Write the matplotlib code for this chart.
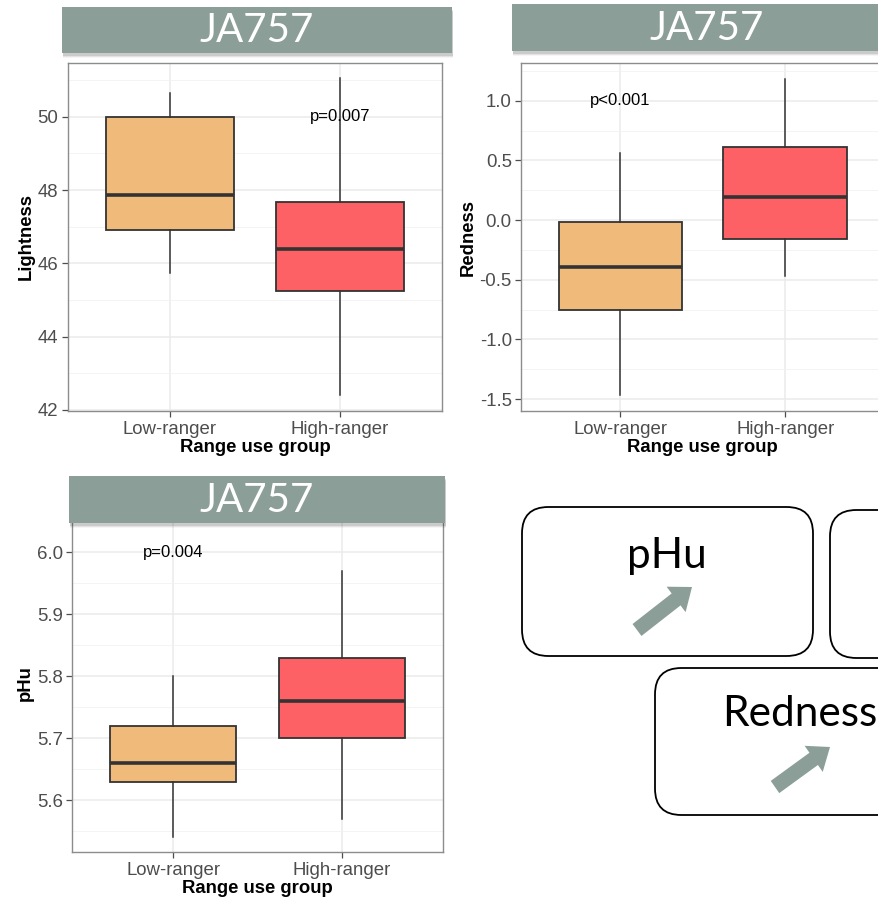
import matplotlib
matplotlib.use("Agg")
import matplotlib.pyplot as plt
from matplotlib.patches import Rectangle, FancyBboxPatch, FancyArrow
import numpy as np

plt.rcParams['font.family'] = ['Liberation Sans', 'DejaVu Sans']

# ---------------- data ----------------
groups = ["Low-ranger", "High-ranger"]
colors = ["#F0BA7A", "#FE6165"]

# box stats: [whisker_low, q1, median, q3, whisker_high]
lightness_low = [45.75, 46.9, 47.87, 50.0, 50.66]
lightness_high = [42.4, 45.25, 46.4, 47.67, 51.05]
redness_low = [-1.47, -0.75, -0.39, -0.02, 0.565]
redness_high = [-0.47, -0.16, 0.19, 0.61, 1.18]
phu_low = [5.54, 5.63, 5.66, 5.72, 5.80]
phu_high = [5.57, 5.70, 5.76, 5.83, 5.97]

p_labels = ["p=0.007", "p<0.001", "p=0.004"]
p_pos = [(2, 50.0), (1, 1.0), (1, 6.0)]
ylabels = ["Lightness", "Redness", "pHu"]
yticks_list = [[42, 44, 46, 48, 50], [-1.5, -1.0, -0.5, 0.0, 0.5, 1.0], [5.6, 5.7, 5.8, 5.9, 6.0]]
yticklabels_list = [["42", "44", "46", "48", "50"],
                    ["-1.5", "-1.0", "-0.5", "0.0", "0.5", "1.0"],
                    ["5.6", "5.7", "5.8", "5.9", "6.0"]]
ylims = [(41.97, 51.47), (-1.60, 1.316), (5.5165, 6.06)]
banner_text = "JA757"
box_texts = ["pHu", "Redness"]

W, H = 879, 900
fig = plt.figure(figsize=(W / 100, H / 100), dpi=100)
fig.patch.set_facecolor("white")


def px_axes(l, t, r, b):
    return fig.add_axes([l / W, 1 - b / H, (r - l) / W, (b - t) / H])


panels = [
    (px_axes(68, 63, 442, 411), [lightness_low, lightness_high]),
    (px_axes(521.5, 63, 884, 411), [redness_low, redness_high]),
    (px_axes(72.5, 515, 442.5, 852), [phu_low, phu_high]),
]

for i, (ax, stats) in enumerate(panels):
    bxp = []
    for s, g in zip(stats, groups):
        bxp.append(dict(whislo=s[0], q1=s[1], med=s[2], q3=s[3], whishi=s[4], fliers=[], label=g))
    b = ax.bxp(bxp, positions=[1, 2], widths=0.75, patch_artist=True, showcaps=False,
               boxprops=dict(edgecolor="#333333", linewidth=1.3),
               medianprops=dict(color="#333333", linewidth=2.6),
               whiskerprops=dict(color="#333333", linewidth=1.1))
    for patch, c in zip(b["boxes"], colors):
        patch.set_facecolor(c)
    for art in b["boxes"] + b["medians"] + b["whiskers"]:
        art.set_zorder(3)
    lo, hi = ylims[i]
    yt = yticks_list[i]
    step = yt[1] - yt[0]
    minors = [v for v in [yt[0] - step / 2] + [v + step / 2 for v in yt] if lo <= v <= hi]
    ax.set_yticks(yt)
    ax.set_yticklabels(yticklabels_list[i])
    ax.set_yticks(minors, minor=True)
    ax.set_xticks([1, 2])
    ax.set_xticklabels(groups)
    ax.set_xlim(0.4, 2.6)
    ax.set_ylim(lo, hi)
    ax.grid(True, which="major", color="#EBEBEB", linewidth=1.1, zorder=0)
    ax.grid(True, which="minor", axis="y", color="#F2F2F2", linewidth=0.6, zorder=0)
    ax.tick_params(which="minor", length=0)
    ax.tick_params(which="major", length=4, color="#4D4D4D", labelcolor="#4D4D4D",
                   labelsize=13.4, width=0.9, pad=3)
    ax.set_axisbelow(True)
    for sp in ax.spines.values():
        sp.set_color("#8C8C8C")
        sp.set_linewidth(1.0)
    ax.set_xlabel("Range use group", fontsize=13.3, fontweight="bold", labelpad=1)
    ax.set_ylabel(ylabels[i], fontsize=13.3, fontweight="bold", labelpad=2)
    px, py = p_pos[i]
    ax.text(px, py, p_labels[i], ha="center", va="center", fontsize=12, color="black", zorder=4)


def fig_rect(l, t, r, b, **kw):
    return Rectangle((l / W, 1 - b / H), (r - l) / W, (b - t) / H, transform=fig.transFigure, **kw)


banner_color = "#8B9E98"
for (l, t, r, b) in [(62, 7, 452, 53), (512, 4, 902, 51), (69, 476, 445, 523)]:
    # soft shadow
    for k, a in enumerate([0.10, 0.07, 0.04]):
        fig.add_artist(fig_rect(l + 1, t + 3 + k, r + 1, b + 3 + k, facecolor="black", alpha=a,
                                edgecolor="none", zorder=5))
    fig.add_artist(fig_rect(l, t, r, b, facecolor=banner_color, edgecolor="none", zorder=6))
    fig.text((l + r) / 2 / W, 1 - ((t + b) / 2 + 1) / H, banner_text, ha="center", va="center",
             color="white", fontsize=29, family=["Lato", "DejaVu Sans"], zorder=7)

# rounded boxes lower right
for (l, t, r, b) in [(522, 507, 813, 656), (830, 510, 960, 658), (655, 668, 960, 815)]:
    fig.add_artist(FancyBboxPatch((l / W, 1 - b / H), (r - l) / W, (b - t) / H,
                                  boxstyle="round,pad=0,rounding_size=0.03",
                                  transform=fig.transFigure, facecolor="white",
                                  edgecolor="black", linewidth=1.3, zorder=5,
                                  mutation_aspect=W / H))

fig.text(667 / W, 1 - 556 / H, box_texts[0], ha="center", va="center", fontsize=30.5,
         family=["Lato", "DejaVu Sans"], color="black", zorder=7)
fig.text(722 / W, 1 - 714 / H, box_texts[1], ha="left", va="center", fontsize=30.5,
         family=["Lato", "DejaVu Sans"], color="black", zorder=7)

for (x0, y0, x1, y1) in [(637, 630, 692, 587), (775, 787, 830, 747)]:
    dx, dy = (x1 - x0) / W, -(y1 - y0) / H
    fig.add_artist(FancyArrow(x0 / W, 1 - y0 / H, dx, dy, width=15 / H,
                              head_width=32 / H, head_length=20 / W,
                              length_includes_head=True, transform=fig.transFigure,
                              facecolor=banner_color, edgecolor="none", zorder=7))

fig.savefig("out.png", dpi=100)
